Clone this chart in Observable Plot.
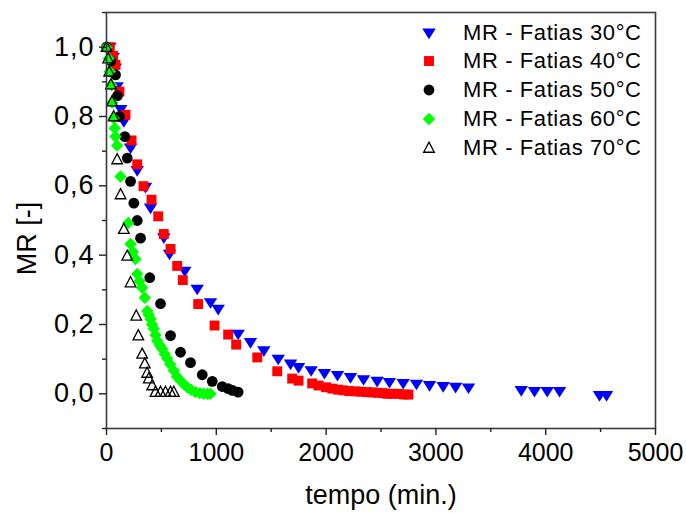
<!DOCTYPE html>
<html><head><meta charset="utf-8">
<script src="https://cdn.jsdelivr.net/npm/d3@7"></script>
<script src="https://cdn.jsdelivr.net/npm/@observablehq/plot@0.6"></script>
<style>
body{margin:0;background:#fff;}
#wrap{position:relative;width:686px;height:513px;font-family:"Liberation Sans",Arial,sans-serif;background:#fff;}
#legend{position:absolute;left:0;top:0;}
.row{position:absolute;left:415px;height:26px;display:flex;align-items:center;font-size:22px;color:#000;white-space:nowrap;letter-spacing:0.6px;}
.row svg{width:28px;height:26px;margin-right:20px;overflow:visible;}
g[aria-label="y-axis tick label"] text{letter-spacing:1px;}
</style></head><body><div id="wrap"></div>
<script>
// ---- data ----
const seriesNames = ["MR - Fatias 30°C","MR - Fatias 40°C","MR - Fatias 50°C","MR - Fatias 60°C","MR - Fatias 70°C"];
const t30 = [30,60,80,97,130,158,219,280,355,401,522,574,713,826,947,1017,1199,1311,1433,1564,1676,1749,1864,1985,2104,2222,2341,2465,2577,2702,2823,2942,3066,3179,3297,3777,3898,4014,4126,4490,4554];
const mr30 = [1.0,0.97,0.94,0.886,0.82,0.785,0.709,0.644,0.596,0.536,0.45,0.403,0.354,0.302,0.263,0.244,0.172,0.148,0.124,0.10,0.086,0.076,0.067,0.059,0.053,0.047,0.041,0.036,0.033,0.030,0.028,0.024,0.021,0.019,0.017,0.0095,0.007,0.007,0.007,-0.005,-0.005];
const t40 = [30,60,82,118,173,228,280,337,410,471,522,583,644,695,835,984,1108,1181,1373,1555,1691,1749,1873,1931,2000,2056,2110,2158,2210,2268,2320,2374,2420,2470,2520,2557,2610,2659,2710,2750];
const mr40 = [1.0,0.975,0.949,0.872,0.805,0.731,0.662,0.599,0.56,0.512,0.461,0.418,0.369,0.328,0.259,0.197,0.171,0.142,0.105,0.065,0.044,0.038,0.030,0.024,0.019,0.015,0.012,0.010,0.008,0.007,0.006,0.005,0.004,0.003,0.002,0.0,0.0,0.0,-0.002,-0.002];
const t50 = [0,40,82,100,118,167,189,219,249,280,310,394,492,583,674,765,872,963,1054,1108,1148,1199];
const mr50 = [1.0,0.96,0.92,0.86,0.80,0.742,0.68,0.613,0.55,0.50,0.449,0.335,0.26,0.168,0.12,0.09,0.055,0.036,0.021,0.015,0.010,0.005];
const t60 = [0,20,30,45,52,66,75,82,97,128,198,219,240,264,280,300,325,349,371,385,401,415,431,446,462,485,507,530,553,580,613,640,674,705,735,770,811,850,886,920,947];
const mr60 = [1.0,0.967,0.93,0.89,0.84,0.795,0.766,0.742,0.716,0.627,0.493,0.432,0.41,0.389,0.346,0.325,0.306,0.277,0.239,0.228,0.216,0.20,0.188,0.17,0.153,0.14,0.13,0.115,0.102,0.085,0.067,0.05,0.038,0.028,0.019,0.012,0.005,0.002,0.0,0.0,0.0];
const t70 = [0,15,25,40,50,65,97,128,158,189,219,271,290,325,349,370,385,416,446,492,537,583,613];
const mr70 = [1.0,0.967,0.929,0.892,0.843,0.80,0.676,0.575,0.475,0.398,0.321,0.225,0.168,0.115,0.087,0.06,0.044,0.024,0.005,0.005,0.005,0.005,0.005];
const xMajor = [0,1000,2000,3000,4000,5000];
const xMinor = [500,1500,2500,3500,4500];
const yMajor = [0.0,0.2,0.4,0.6,0.8,1.0];
const yMinor = [-0.1,0.1,0.3,0.5,0.7,0.9,1.1];

// ---- symbols ----
const rOf = s => Math.sqrt(s/Math.PI);
const invTri = {draw(c,s){const r=rOf(s);c.moveTo(-1.2*r,-0.8*r);c.lineTo(1.2*r,-0.8*r);c.lineTo(0,1.1*r);c.closePath();}};
const sq = {draw(c,s){const r=rOf(s)*0.9;c.rect(-r,-r,2*r,2*r);}};
const circ = {draw(c,s){const r=rOf(s);c.moveTo(r,0);c.arc(0,0,r,0,2*Math.PI);}};
const dia = {draw(c,s){const r=rOf(s)*1.15;c.moveTo(0,-r);c.lineTo(r,0);c.lineTo(0,r);c.lineTo(-r,0);c.closePath();}};
const upTri = {draw(c,s){const r=rOf(s);c.moveTo(0,-1.1*r);c.lineTo(r,0.8*r);c.lineTo(-r,0.8*r);c.closePath();}};

const styles = [
  {sym:invTri, r:5.6, fill:"#0000ff", stroke:"none"},
  {sym:sq, r:5.5, fill:"#ff0000", stroke:"none"},
  {sym:circ, r:5.4, fill:"#000000", stroke:"none"},
  {sym:dia, r:5.4, fill:"#00ff00", stroke:"none"},
  {sym:upTri, r:5.3, fill:"none", stroke:"#000000"}
];
const tList = [t30,t40,t50,t60,t70];
const mrList = [mr30,mr40,mr50,mr60,mr70];
const data = tList.map((ts,i)=>ts.map((t,j)=>({t, mr: mrList[i][j]})));

const fmtComma = d => d3.format(".1f")(d).replace(".", ",");

const dots = data.map((d,i)=>Plot.dot(d,{x:"t",y:"mr",symbol:styles[i].sym,r:styles[i].r,fill:styles[i].fill,stroke:styles[i].stroke,strokeWidth:1.3}));

const chart = Plot.plot({
  width:686, height:513,
  marginLeft:106, marginRight:31, marginTop:12, marginBottom:85,
  style:{fontFamily:"'Liberation Sans', Arial, sans-serif", fontSize:"25px", color:"#000", background:"#fff", overflow:"visible"},
  x:{domain:[0,5000]},
  y:{domain:[-0.1,1.1]},
  marks:[
    ...dots,
    Plot.frame({stroke:"#3a3a3a", strokeWidth:1.6}),
    Plot.axisY({ticks:yMajor, tickSize:7, tickPadding:5, tickFormat:fmtComma, label:null, fontSize:27, stroke:"#222", strokeWidth:1.4}),
    Plot.axisY({ticks:yMinor, tickSize:4, tickFormat:()=>"", label:null, stroke:"#222", strokeWidth:1.4}),
    Plot.axisX({ticks:xMajor, tickSize:7, tickPadding:8, tickFormat:d=>String(d), label:null, stroke:"#222", strokeWidth:1.4}),
    Plot.axisX({ticks:xMinor, tickSize:4, tickFormat:()=>"", label:null, stroke:"#222", strokeWidth:1.4}),
    Plot.text(["tempo (min.)"], {frameAnchor:"bottom", textAnchor:"middle", lineAnchor:"middle", dy:67, fontSize:27, fill:"#000"}),
    Plot.text(["MR [-]"], {frameAnchor:"left", textAnchor:"middle", lineAnchor:"middle", rotate:-90, dx:-79, dy:18, fontSize:27, fill:"#000"})
  ]
});
const wrap = document.getElementById("wrap");
wrap.appendChild(chart);

// ---- legend ----
const leg = document.createElement("div");
leg.id = "legend";
const rowY = [32.5, 61, 89.5, 118.5, 147.5];
seriesNames.forEach((name,i)=>{
  const row = document.createElement("div");
  row.className = "row";
  row.style.top = (rowY[i]-13)+"px";
  const st = styles[i];
  const p = d3.symbol(st.sym, st.r*st.r*Math.PI)();
  row.innerHTML = `<svg viewBox="-14 -13 28 26"><path d="${p}" fill="${st.fill}" stroke="${st.stroke}" stroke-width="1.3"/></svg><span>${name}</span>`;
  leg.appendChild(row);
});
wrap.appendChild(leg);
</script>
</body></html>
